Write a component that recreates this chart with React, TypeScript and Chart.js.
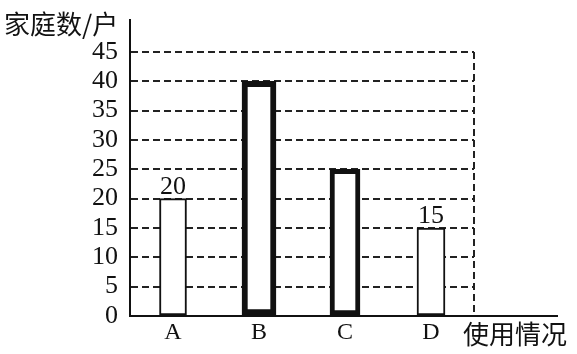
import React, { useEffect, useRef } from "react";
import { Chart, registerables } from "chart.js";

Chart.register(...registerables);

// Survey data: number of households per usage category
const categories = ["A", "B", "C", "D"];
const households = [20, 40, 25, 15];
const yTickValues = [0, 5, 10, 15, 20, 25, 30, 35, 40, 45];
const labelledBars = [0, 3];
const yTitle = "家庭数/户";
const xTitle = "使用情况";

// Per-bar outline styling
const barThickness = [27, 34, 30, 28];
const barBorderWidth = [2, 6, 5, 2];

const SERIF = "'Liberation Serif', 'Times New Roman', serif";
const CJK = "'Noto Sans CJK SC', 'Noto Sans', sans-serif";
const INK = "#111";

const decorations = {
  id: "decorations",
  afterDraw(chart: any) {
    const { ctx, chartArea, scales } = chart;
    const y = scales.y;
    ctx.save();

    // x axis continues past the plot frame
    ctx.strokeStyle = INK;
    ctx.lineWidth = 2;
    ctx.beginPath();
    ctx.moveTo(chartArea.right, chartArea.bottom);
    ctx.lineTo(558, chartArea.bottom);
    ctx.stroke();

    // dashed right edge of the grid
    const topVal = yTickValues[yTickValues.length - 1];
    ctx.setLineDash([7, 4]);
    ctx.strokeStyle = "#222";
    ctx.beginPath();
    ctx.moveTo(chartArea.right, y.getPixelForValue(topVal));
    ctx.lineTo(chartArea.right, chartArea.bottom);
    ctx.stroke();
    ctx.setLineDash([]);

    // axis titles
    ctx.fillStyle = INK;
    ctx.textBaseline = "middle";
    ctx.textAlign = "left";
    ctx.font = `26px ${CJK}`;
    ctx.fillText(yTitle, 4, 24);
    ctx.font = `26px ${CJK}`;
    ctx.fillText(xTitle, chartArea.right - 11, chartArea.bottom + 18);

    // value labels above selected bars
    ctx.font = `26px ${SERIF}`;
    ctx.textAlign = "center";
    ctx.textBaseline = "alphabetic";
    labelledBars.forEach((i) => {
      const el = chart.getDatasetMeta(i).data[i];
      if (!el) return;
      ctx.fillText(String(households[i]), el.x, el.y - 5);
    });

    ctx.restore();
  },
};

export default function App() {
  const canvasRef = useRef<HTMLCanvasElement | null>(null);

  useEffect(() => {
    const canvas = canvasRef.current;
    if (!canvas) return;

    const datasets = categories.map((_, i) => ({
      data: households.map((v, j) => (j === i ? v : null)),
      backgroundColor: "#fff",
      borderColor: INK,
      borderWidth: barBorderWidth[i],
      barThickness: barThickness[i],
      borderSkipped: false as const,
      grouped: false,
    }));

    const chart = new Chart(canvas, {
      type: "bar",
      data: { labels: categories, datasets },
      plugins: [decorations],
      options: {
        animation: false,
        responsive: false,
        devicePixelRatio: 1,
        layout: { padding: { top: 20, right: 103, left: 0, bottom: 0 } },
        plugins: { legend: { display: false }, tooltip: { enabled: false } },
        scales: {
          x: {
            grid: { display: false, drawTicks: false },
            border: { display: true, color: INK, width: 2 },
            ticks: {
              color: INK,
              padding: 2,
              font: { family: SERIF, size: 24 },
            },
            afterFit: (s: any) => {
              s.height = 38;
              s.paddingLeft = 0;
              s.paddingRight = 0;
            },
          },
          y: {
            min: 0,
            max: 50.45,
            afterBuildTicks: (s: any) => {
              s.ticks = yTickValues.map((v) => ({ value: v }));
            },
            grid: {
              drawTicks: false,
              lineWidth: 2,
              color: (c: any) => (c.tick && c.tick.value === 0 ? "rgba(0,0,0,0)" : "#222"),
            },
            border: { display: true, color: INK, width: 2, dash: [7, 4] },
            ticks: {
              color: INK,
              padding: 12,
              autoSkip: false,
              font: { family: SERIF, size: 26 },
            },
            afterFit: (s: any) => {
              s.width = 130;
              s.paddingTop = 0;
              s.paddingBottom = 0;
            },
          },
        },
      },
    });

    return () => chart.destroy();
  }, []);

  return (
    <div style={{ position: "fixed", left: 0, top: 0, width: 577, height: 354, background: "#fff" }}>
      <canvas ref={canvasRef} width={577} height={354} style={{ display: "block" }} />
    </div>
  );
}
